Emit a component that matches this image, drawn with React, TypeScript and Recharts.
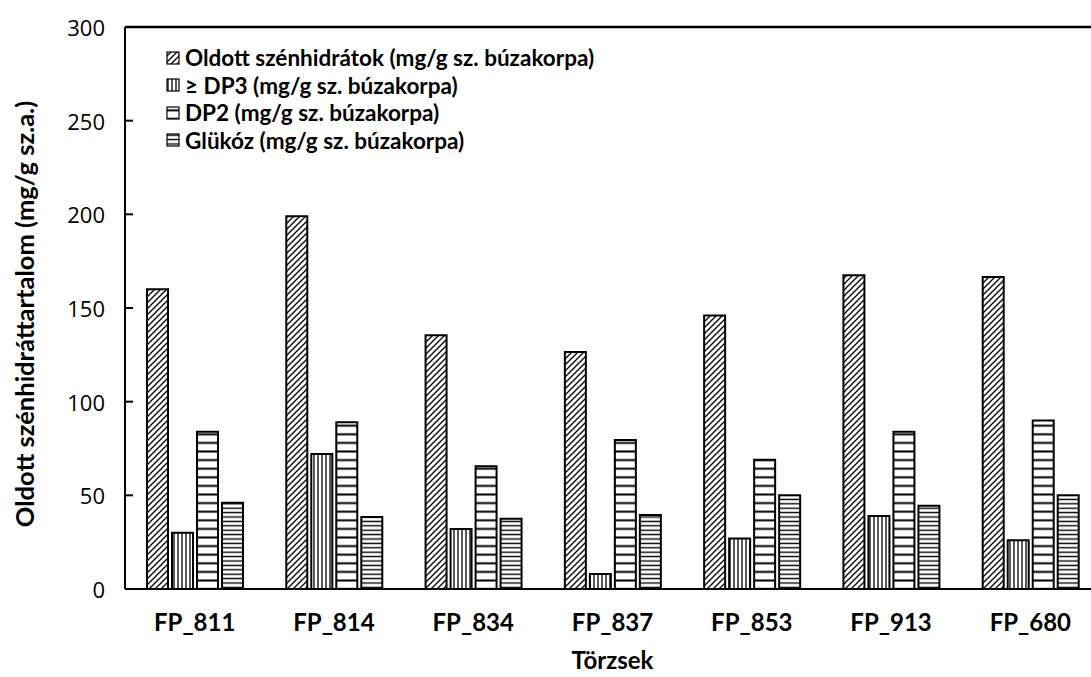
import React from 'react'
import { BarChart, Bar, XAxis, YAxis, Legend, ReferenceLine } from 'recharts'

// strains on the x axis
const strains = ['FP_811', 'FP_814', 'FP_834', 'FP_837', 'FP_853', 'FP_913', 'FP_680']

// mg/g values per strain
const solubleCarbs = [160, 199, 135.5, 126.5, 146, 167.5, 166.5]
const dp3Plus = [30, 72, 32, 8, 27, 39, 26]
const dp2 = [84, 89, 65.5, 79.5, 69, 84, 90]
const glucose = [46, 38.5, 37.5, 39.5, 50, 44.5, 50]

const yTicks = [0, 50, 100, 150, 200, 250, 300]

const seriesNames = [
  'Oldott szénhidrátok (mg/g sz. búzakorpa)',
  '≥ DP3 (mg/g sz. búzakorpa)',
  'DP2 (mg/g sz. búzakorpa)',
  'Glükóz (mg/g sz. búzakorpa)',
]

const data = strains.map((name, i) => ({
  name,
  oldott: solubleCarbs[i],
  dp3: dp3Plus[i],
  dp2: dp2[i],
  glukoz: glucose[i],
}))

const SERIES = [
  { key: 'oldott', pattern: 'pat-diag' },
  { key: 'dp3', pattern: 'pat-vert' },
  { key: 'dp2', pattern: 'pat-hwide' },
  { key: 'glukoz', pattern: 'pat-hdense' },
]

const BOLD = 'Lato, "Open Sans", sans-serif'
const TICK_GAP = 20

const Patterns = () => (
  <svg width={0} height={0} style={{ position: 'absolute' }}>
    <defs>
      <pattern id="pat-diag" patternUnits="userSpaceOnUse" width={6} height={6}>
        <rect width={6} height={6} fill="#fff" />
        <path d="M-1,1 l2,-2 M0,6 l6,-6 M5,7 l2,-2" stroke="#000" strokeWidth={1.3} />
      </pattern>
      <pattern id="pat-vert" patternUnits="userSpaceOnUse" width={4} height={4}>
        <rect width={4} height={4} fill="#fff" />
        <line x1={2} y1={0} x2={2} y2={4} stroke="#000" strokeWidth={1.3} />
      </pattern>
      <pattern id="pat-hwide" patternUnits="userSpaceOnUse" width={4} height={8.6}>
        <rect width={4} height={8.6} fill="#fff" />
        <line x1={0} y1={4.3} x2={4} y2={4.3} stroke="#000" strokeWidth={2} />
      </pattern>
      <pattern id="pat-hdense" patternUnits="userSpaceOnUse" width={4} height={4.4}>
        <rect width={4} height={4.4} fill="#fff" />
        <line x1={0} y1={2.2} x2={4} y2={2.2} stroke="#000" strokeWidth={1.4} />
      </pattern>
    </defs>
  </svg>
)

const YTick = (props: any) => {
  const { x, y, payload } = props
  return (
    <g>
      <line x1={x + TICK_GAP} x2={x + TICK_GAP + 8} y1={y} y2={y} stroke="#000" strokeWidth={2} />
      <text
        x={x}
        y={y}
        textAnchor="end"
        dominantBaseline="central"
        fontFamily='"Open Sans", sans-serif'
        fontSize={22}
        fill="#000"
      >
        {payload.value}
      </text>
    </g>
  )
}

const XTick = (props: any) => {
  const { x, y, payload } = props
  return (
    <text
      x={x}
      y={y}
      textAnchor="middle"
      dominantBaseline="central"
      fontFamily={BOLD}
      fontWeight="bold"
      fontSize={24}
      fill="#000"
    >
      {payload.value}
    </text>
  )
}

const YLabel = (props: any) => {
  const vb = props.viewBox
  const cx = vb.x + 24
  const cy = vb.y + vb.height / 2 + 6
  return (
    <text
      x={cx}
      y={cy}
      transform={`rotate(-90, ${cx}, ${cy})`}
      textAnchor="middle"
      dominantBaseline="central"
      fontFamily={BOLD}
      fontWeight="bold"
      fontSize={25.5}
      fill="#000"
    >
      Oldott szénhidráttartalom (mg/g sz.a.)
    </text>
  )
}

const XLabel = (props: any) => {
  const vb = props.viewBox
  return (
    <text
      x={vb.x + vb.width / 2}
      y={vb.y + 70}
      textAnchor="middle"
      dominantBaseline="central"
      fontFamily={BOLD}
      fontWeight="bold"
      fontSize={24}
      fill="#000"
    >
      Törzsek
    </text>
  )
}

const LegendBox = () => (
  <div style={{ fontFamily: BOLD, fontWeight: 'bold', fontSize: 22.5, color: '#000' }}>
    {SERIES.map((s, i) => (
      <div key={s.key} style={{ display: 'flex', alignItems: 'center', height: 27.5 }}>
        <svg width={14} height={14} style={{ marginRight: 5 }}>
          <rect x={1} y={1} width={12} height={12} fill={`url(#${s.pattern})`} stroke="#000" strokeWidth={1.2} />
        </svg>
        <span>{seriesNames[i]}</span>
      </div>
    ))}
  </div>
)

export default function App() {
  return (
    <div
      style={{
        position: 'fixed',
        left: 0,
        top: 0,
        width: 1091,
        height: 677,
        overflow: 'hidden',
        background: '#fff',
      }}
    >
      <Patterns />
      <BarChart
        width={1105}
        height={677}
        data={data}
        margin={{ top: 27, right: 5, bottom: 0, left: 0 }}
        barSize={21}
        barGap={4}
      >
        <YAxis
          width={125}
          domain={[0, 300]}
          ticks={yTicks}
          interval={0}
          tickSize={0}
          tickMargin={TICK_GAP}
          tick={<YTick />}
          axisLine={{ stroke: '#000', strokeWidth: 2 }}
          tickLine={false}
          label={<YLabel />}
        />
        <XAxis
          dataKey="name"
          height={88}
          tickSize={0}
          tickMargin={32}
          tick={<XTick />}
          axisLine={{ stroke: '#000', strokeWidth: 2 }}
          tickLine={false}
          label={<XLabel />}
        />
        <ReferenceLine y={300} stroke="#000" strokeWidth={2.5} />
        <Legend
          layout="vertical"
          align="center"
          verticalAlign="middle"
          wrapperStyle={{ left: 166, top: 44, width: 'auto' }}
          content={<LegendBox />}
        />
        {SERIES.map((s, i) => (
          <Bar
            key={s.key}
            dataKey={s.key}
            name={seriesNames[i]}
            fill={`url(#${s.pattern})`}
            stroke="#000"
            strokeWidth={2}
            isAnimationActive={false}
          />
        ))}
      </BarChart>
    </div>
  )
}
